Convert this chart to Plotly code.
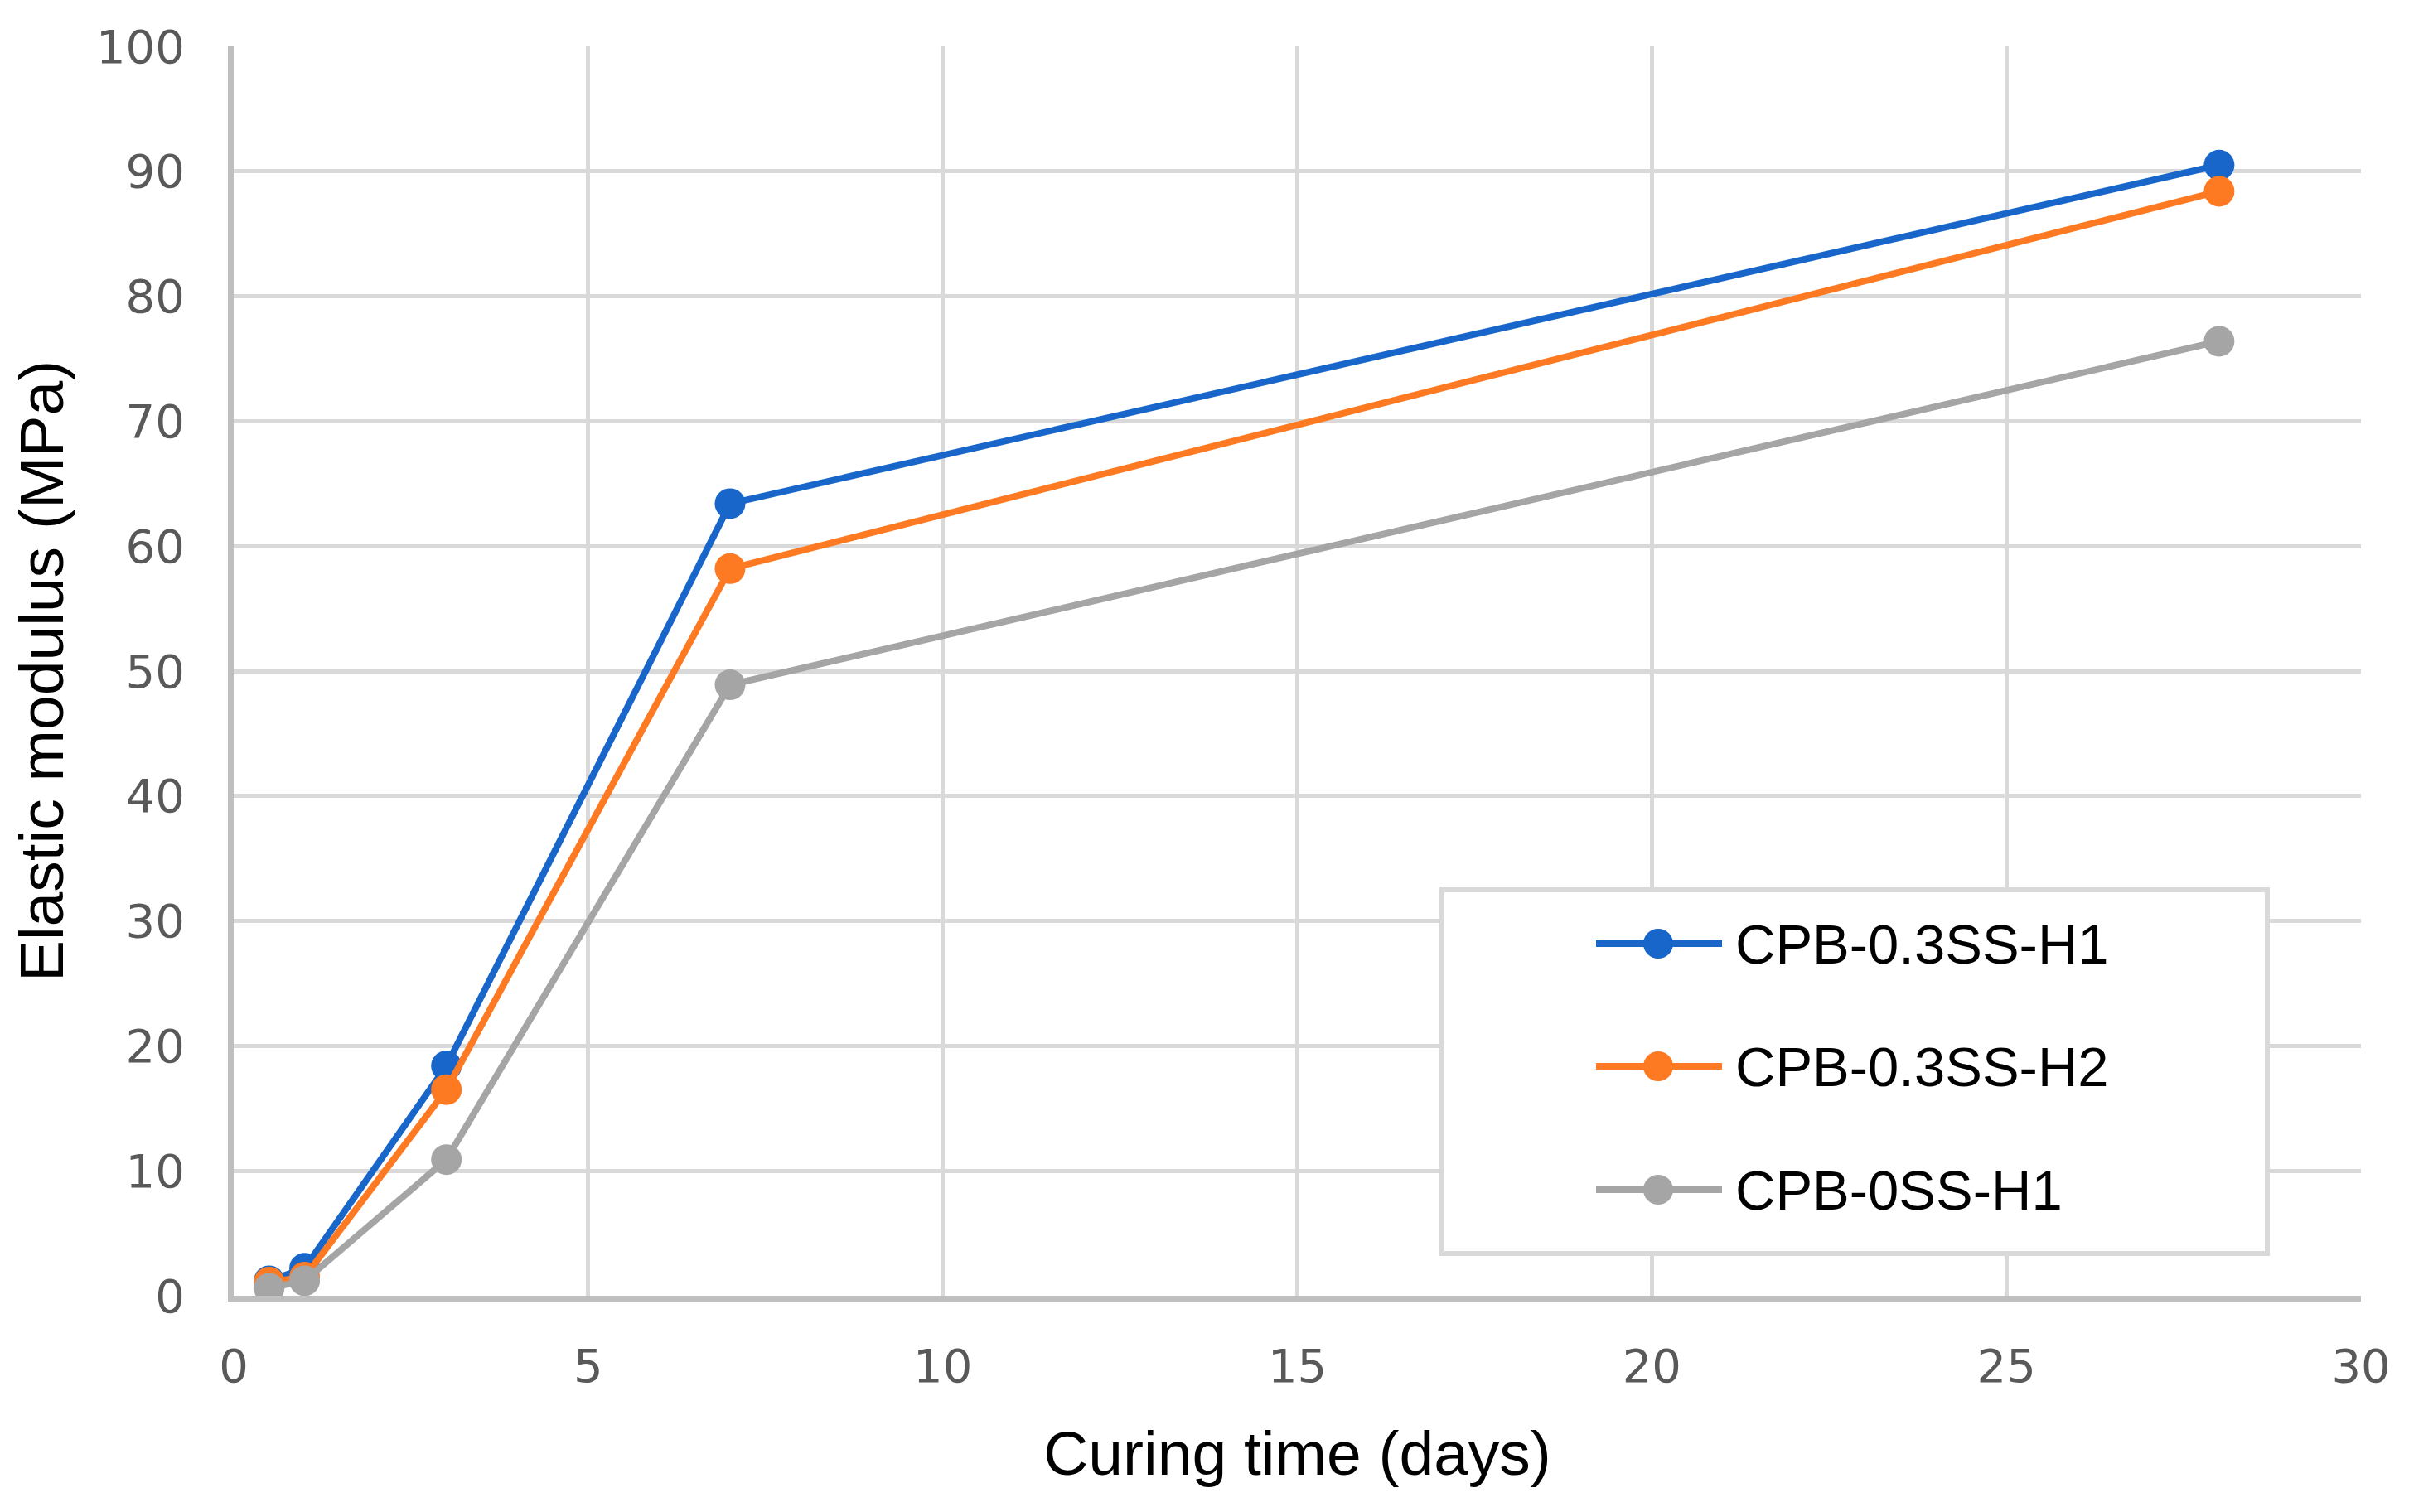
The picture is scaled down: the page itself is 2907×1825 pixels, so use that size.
import plotly.graph_objects as go

# ---- data ----
curing_days = [0.5, 1, 3, 7, 28]
series_names = ["CPB-0.3SS-H1", "CPB-0.3SS-H2", "CPB-0SS-H1"]
vals_h1 = [1.2, 2.2, 18.4, 63.4, 90.5]
vals_h2 = [1.1, 1.5, 16.5, 58.2, 88.4]
vals_0ss = [0.6, 1.2, 10.9, 48.9, 76.4]
x_ticks = [0, 5, 10, 15, 20, 25, 30]
y_ticks = [0, 10, 20, 30, 40, 50, 60, 70, 80, 90, 100]

colors = ["#1866C9", "#FD7A23", "#A5A5A5"]
all_vals = [vals_h1, vals_h2, vals_0ss]

OFF = 8  # default page body margin
W, H = 2907 - OFF, 1825 - OFF
L, T = 282 - OFF, 56 - OFF
R = W - (2849 - OFF)
B = H - (1564 - OFF)
PW, PH = W - L - R, H - T - B

def px(X):  # page pixel -> paper x
    return (X - OFF - L) / PW

def py(Y):  # page pixel -> paper y
    return (H - B - (Y - OFF)) / PH

fig = go.Figure()
for name, vals, col in zip(series_names, all_vals, colors):
    fig.add_trace(go.Scatter(
        x=curing_days, y=vals, name=name, mode="lines+markers",
        line=dict(color=col, width=8),
        marker=dict(color=col, size=37),
        showlegend=False,
    ))

# ---- manual legend (box, line glyphs, markers, labels) ----
shapes = [dict(type="rect", xref="paper", yref="paper",
               x0=px(1740), x1=px(2736), y0=py(1513), y1=py(1074),
               line=dict(color="#D9D9D9", width=6), fillcolor="white", layer="above")]
annotations = []
row_y = [1139, 1287, 1436]
for name, col, ry in zip(series_names, colors, row_y):
    shapes.append(dict(type="line", xref="paper", yref="paper",
                       x0=px(1926), x1=px(2078), y0=py(ry), y1=py(ry),
                       line=dict(color=col, width=8), layer="above"))
    shapes.append(dict(type="circle", xref="paper", yref="paper",
                       xsizemode="pixel", ysizemode="pixel",
                       xanchor=px(2001), yanchor=py(ry),
                       x0=-18, x1=18, y0=-18, y1=18,
                       fillcolor=col, line=dict(color=col, width=0), layer="above"))
    annotations.append(dict(xref="paper", yref="paper", x=px(2092), y=py(ry),
                            text=name, showarrow=False, xanchor="left", yanchor="middle",
                            font=dict(family="Liberation Sans, Arial", size=67, color="#000000")))

fig.update_layout(
    width=W, height=H,
    margin=dict(l=L, r=R, t=T, b=B, autoexpand=False),
    paper_bgcolor="white", plot_bgcolor="white",
    shapes=shapes, annotations=annotations,
    xaxis=dict(
        range=[0, 30], tickvals=x_ticks, ticktext=[str(v) for v in x_ticks],
        showgrid=True, gridcolor="#D9D9D9", gridwidth=5,
        showline=True, linecolor="#BFBFBF", linewidth=7,
        zeroline=False, ticks="", ticklabelstandoff=30,
        tickfont=dict(family="DejaVu Sans", size=56, color="#595959"),
        title=dict(text="Curing time (days)", standoff=50,
                   font=dict(family="Liberation Sans, Arial", size=75, color="#000000")),
    ),
    yaxis=dict(
        range=[0, 100], tickvals=y_ticks, ticktext=[str(v) for v in y_ticks],
        showgrid=True, gridcolor="#D9D9D9", gridwidth=5,
        showline=True, linecolor="#BFBFBF", linewidth=7,
        zeroline=False, ticks="", ticklabelstandoff=41,
        tickfont=dict(family="DejaVu Sans", size=56, color="#595959"),
        title=dict(text="Elastic modulus (MPa)", standoff=38,
                   font=dict(family="Liberation Sans, Arial", size=75, color="#000000")),
    ),
)

fig.write_html("out.html")
